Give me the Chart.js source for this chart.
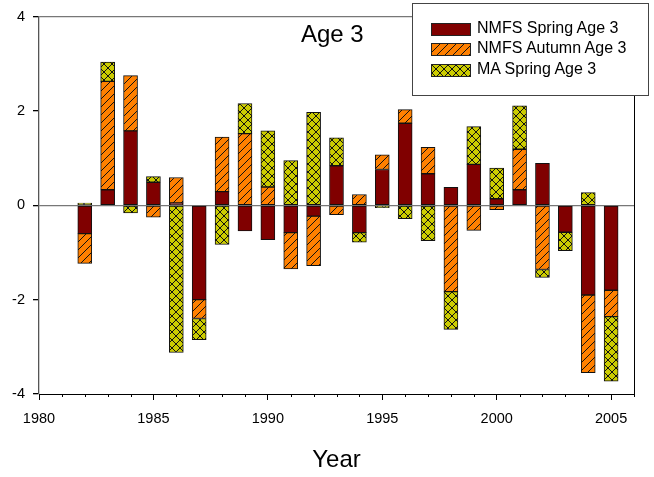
<!DOCTYPE html>
<html>
<head>
<meta charset="utf-8">
<script src="https://cdn.jsdelivr.net/npm/chart.js@4"></script>
<style>
  body { margin: 0; background: #fff; }
  #wrap { position: relative; width: 654px; height: 477px; font-family: "Liberation Sans", Arial, sans-serif; }
  #chart { position: absolute; left: 0; top: 0; }
  .title { position: absolute; left: 301px; top: 22px; font-size: 24px; line-height: 24px; color: #000; }
  .xtitle { position: absolute; left: 0; width: 673px; text-align: center; top: 447px; font-size: 24px; line-height: 24px; color: #000; }
  .legend { position: absolute; left: 412px; top: 3px; width: 235px; height: 91px; border: 1.5px solid #444; background: #fff; }
  .legend .item { position: absolute; left: 18px; height: 11px; }
  .legend canvas { position: absolute; left: 0; top: 0; border: 1px solid #222; box-sizing: border-box; }
  .legend span { position: absolute; left: 46px; top: -4px; font-size: 16px; line-height: 18px; white-space: nowrap; }
</style>
</head>
<body>
<div id="wrap">
  <canvas id="chart" width="654" height="477"></canvas>
  <div class="title">Age 3</div>
  <div class="xtitle">Year</div>
  <div class="legend" id="legend"></div>
</div>
<script>
// years and anomaly values
const years = [1982, 1983, 1984, 1985, 1986, 1987, 1988, 1989, 1990, 1991, 1992, 1993,
  1994, 1995, 1996, 1997, 1998, 1999, 2000, 2001, 2002, 2003, 2004, 2005];
const nmfsSpring = [-0.6, 0.33, 1.58, 0.49, 0.05, -2.0, 0.29, -0.54, -0.73, -0.58, -0.23, 0.84,
  -0.58, 0.76, 1.74, 0.67, 0.38, 0.87, 0.14, 0.33, 0.89, -0.57, -1.9, -1.8];
const nmfsAutumn = [-0.63, 2.3, 1.17, -0.25, 0.54, -0.4, 1.16, 1.52, 0.39, -0.77, -1.05, -0.2,
  0.23, 0.31, 0.29, 0.56, -1.83, -0.53, -0.09, 0.86, -1.36, 0, -1.65, -0.56];
const maSpring = [0.05, 0.41, -0.16, 0.12, -3.12, -0.45, -0.83, 0.64, 1.19, 0.95, 1.97, 0.59,
  -0.2, -0.05, -0.28, -0.75, -0.8, 0.8, 0.65, 0.92, -0.17, -0.39, 0.27, -1.37];
const seriesNames = ["NMFS Spring Age 3", "NMFS Autumn Age 3", "MA Spring Age 3"];
const yTicks = [-4, -2, 0, 2, 4];
const xMin = 1980, xMax = 2006;

const RED = "#800000", ORANGE = "#ff8000", OLIVE = "#cccc00";

function hatch(bg, cross) {
  const c = document.createElement("canvas");
  c.width = 8; c.height = 8;
  const g = c.getContext("2d");
  g.fillStyle = bg;
  g.fillRect(0, 0, 8, 8);
  g.strokeStyle = "#111";
  g.lineWidth = 1;
  g.beginPath();
  g.moveTo(-1, 9); g.lineTo(9, -1);
  g.moveTo(-1, 1); g.lineTo(1, -1);
  g.moveTo(7, 9); g.lineTo(9, 7);
  if (cross) {
    g.moveTo(-1, -1); g.lineTo(9, 9);
    g.moveTo(7, -1); g.lineTo(9, 1);
    g.moveTo(-1, 7); g.lineTo(1, 9);
  }
  g.stroke();
  return c;
}

const ctx = document.getElementById("chart").getContext("2d");
const fills = [RED, ctx.createPattern(hatch(ORANGE, false), "repeat"), ctx.createPattern(hatch(OLIVE, true), "repeat")];

const toPoints = (vals) => vals.map((v, i) => ({ x: years[i], y: v }));
const allSeries = [nmfsSpring, nmfsAutumn, maSpring];

// frame: right border + minor x ticks
const framePlugin = {
  id: "frame",
  afterDraw(chart) {
    const { ctx, chartArea } = chart;
    const xs = chart.scales.x;
    ctx.save();
    ctx.strokeStyle = "#000";
    ctx.lineWidth = 1;
    ctx.beginPath();
    ctx.moveTo(chartArea.right + 0.5, chartArea.top);
    ctx.lineTo(chartArea.right + 0.5, chartArea.bottom);
    for (let yr = xMin; yr <= xMax; yr++) {
      if (yr % 5 === 0) continue;
      const px = Math.round(xs.getPixelForValue(yr)) + 0.5;
      ctx.moveTo(px, chartArea.bottom);
      ctx.lineTo(px, chartArea.bottom + 3);
    }
    ctx.stroke();
    ctx.restore();
  }
};

Chart.defaults.font.family = '"Liberation Sans", Arial, sans-serif';
Chart.defaults.color = "#000";

new Chart(ctx, {
  type: "bar",
  data: {
    datasets: allSeries.map((vals, i) => ({
      label: seriesNames[i],
      data: toPoints(vals),
      backgroundColor: fills[i],
      borderColor: "#111",
      borderWidth: 1,
      borderSkipped: false,
      barThickness: 14,
    })),
  },
  options: {
    responsive: false,
    animation: false,
    layout: { padding: { left: 0, right: 20, top: 14, bottom: 0 } },
    plugins: { legend: { display: false }, tooltip: { enabled: false } },
    scales: {
      x: {
        type: "linear",
        stacked: true,
        offset: false,
        min: xMin,
        max: xMax,
        afterFit: (s) => { s.height = 83; },
        afterBuildTicks: (s) => {
          const t = [];
          for (let yr = xMin; yr <= xMax; yr++) t.push({ value: yr });
          s.ticks = t;
        },
        ticks: {
          autoSkip: false,
          maxRotation: 0,
          padding: 10,
          font: { size: 14.5 },
          callback: (v) => (v % 5 === 0 && v < xMax ? String(v) : ""),
        },
        grid: {
          offset: false,
          drawOnChartArea: false,
          tickLength: 6,
          tickColor: (c) => (c.tick && c.tick.value % 5 === 0 ? "#000" : "rgba(0,0,0,0)"),
        },
        border: { color: "#000", width: 1 },
      },
      y: {
        stacked: true,
        min: -4,
        max: 4,
        afterFit: (s) => { s.width = 39; },
        afterBuildTicks: (s) => { s.ticks = yTicks.map((v) => ({ value: v })); },
        ticks: { padding: 8, font: { size: 14.5 } },
        grid: {
          tickLength: 6,
          tickColor: "#000",
          color: (c) => (c.tick && (c.tick.value === 0 || c.tick.value === 4) ? "#777" : "rgba(0,0,0,0)"),
          lineWidth: 1.3,
        },
        border: { color: "#555", width: 1.3 },
      },
    },
  },
  plugins: [framePlugin],
});

// legend in the top right corner
const legendEl = document.getElementById("legend");
seriesNames.forEach((name, i) => {
  const item = document.createElement("div");
  item.className = "item";
  item.style.top = [19, 39, 60][i] + "px";
  const sw = document.createElement("canvas");
  sw.width = 38; sw.height = 11;
  const sctx = sw.getContext("2d");
  sctx.fillStyle = i === 0 ? RED : sctx.createPattern(hatch(i === 1 ? ORANGE : OLIVE, i === 2), "repeat");
  sctx.fillRect(0, 0, 38, 11);
  const label = document.createElement("span");
  label.innerText = name;
  item.appendChild(sw);
  item.appendChild(label);
  legendEl.appendChild(item);
});
</script>
</body>
</html>
